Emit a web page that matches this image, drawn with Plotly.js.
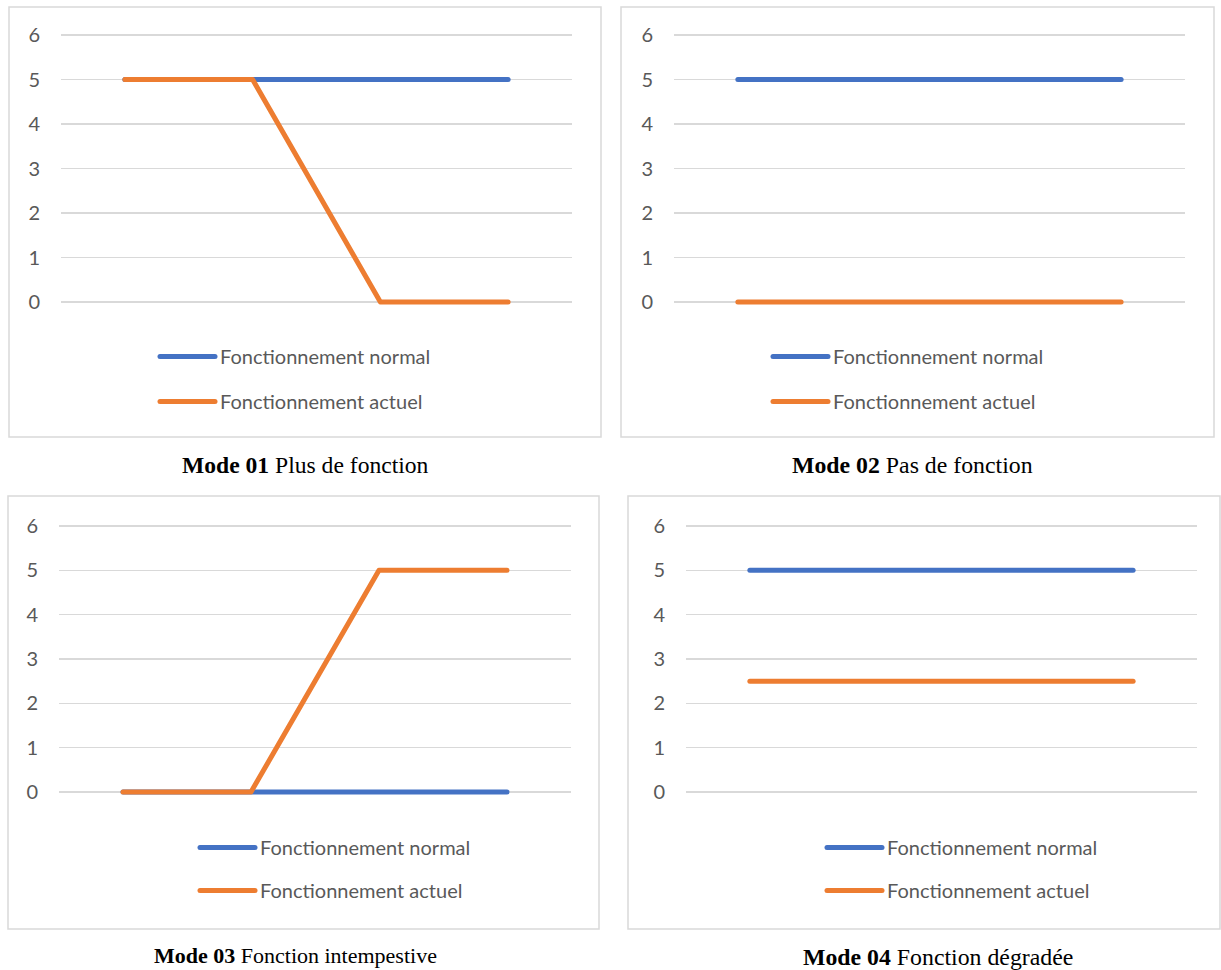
<!DOCTYPE html>
<html><head><meta charset="utf-8">
<script src="https://cdn.plot.ly/plotly-3.0.1.min.js"></script>
<style>
html,body{margin:0;padding:0;background:#fff}
#chart{width:1221px;height:970px}
.js-line{stroke-linecap:round !important;stroke-linejoin:round !important}
</style>
</head><body><div id="chart"></div><script>
// ---- data ----
const steps = ["t1", "t2", "t3", "t4"];
const seriesNames = ["Fonctionnement normal", "Fonctionnement actuel"];
const mode1Normal = [5, 5, 5, 5];
const mode1Actuel = [5, 5, 0, 0];
const mode2Normal = [5, 5, 5, 5];
const mode2Actuel = [0, 0, 0, 0];
const mode3Normal = [0, 0, 0, 0];
const mode3Actuel = [0, 0, 5, 5];
const mode4Normal = [5, 5, 5, 5];
const mode4Actuel = [2.5, 2.5, 2.5, 2.5];
const yTicks = [0, 1, 2, 3, 4, 5, 6];
const captionBold = ["Mode 01", "Mode 02", "Mode 03", "Mode 04"];
const captionText = ["Plus de fonction", "Pas de fonction", "Fonction intempestive", "Fonction dégradée"];

const normals = [mode1Normal, mode2Normal, mode3Normal, mode4Normal];
const actuels = [mode1Actuel, mode2Actuel, mode3Actuel, mode4Actuel];

// ---- layout geometry (pixels) ----
const W = 1221, H = 970;
const panels = [
  {gx: [61, 572], gy0: 302, gy6: 35, box: [9, 7, 601, 437], leg: [155, 337], gap: 16, cap: [305, 465], capSize: 23.6},
  {gx: [674, 1185], gy0: 302, gy6: 35, box: [621, 7, 1214, 437], leg: [768, 337], gap: 16, cap: [912, 465], capSize: 23.8},
  {gx: [59, 571], gy0: 792, gy6: 526, box: [8, 496, 599, 929], leg: [195, 828], gap: 14, cap: [295, 955], capSize: 22},
  {gx: [686, 1197], gy0: 792, gy6: 526, box: [628, 496, 1220, 929], leg: [822, 828], gap: 14, cap: [938, 957], capSize: 23.8}
];
const BLUE = "#4472C4", ORANGE = "#ED7D31";
const tickFont = {family: "Lato, 'Open Sans', sans-serif", size: 20, color: "#595959"};

const traces = [];
const layout = {
  width: W, height: H,
  margin: {l: 0, r: 0, t: 0, b: 0},
  paper_bgcolor: "#ffffff", plot_bgcolor: "#ffffff",
  showlegend: true,
  shapes: [], annotations: []
};

panels.forEach((p, i) => {
  const n = i + 1;
  const xa = n === 1 ? "x" : "x" + n;
  const ya = n === 1 ? "y" : "y" + n;
  const legName = n === 1 ? "legend" : "legend" + n;
  const unit = (p.gy0 - p.gy6) / 6;
  const yb = p.gy0 + 0.6 * unit, yt = p.gy6 - 0.4 * unit;
  layout[n === 1 ? "xaxis" : "xaxis" + n] = {
    domain: [p.gx[0] / W, p.gx[1] / W], anchor: ya,
    type: "category", categoryorder: "array", categoryarray: steps,
    range: [-0.5, 3.5], showticklabels: false, showgrid: false,
    zeroline: false, showline: false, ticks: "", fixedrange: true
  };
  layout[n === 1 ? "yaxis" : "yaxis" + n] = {
    domain: [1 - yb / H, 1 - yt / H], anchor: xa,
    range: [-0.6, 6.4], tickmode: "array", tickvals: yTicks,
    ticktext: yTicks.map(String),
    showgrid: true, gridcolor: "#d9d9d9", gridwidth: 1.3,
    zeroline: false, showline: false, ticks: "",
    ticklabelstandoff: 20, tickfont: tickFont, fixedrange: true
  };
  traces.push({
    type: "scatter", mode: "lines", x: steps, y: normals[i],
    name: seriesNames[0], xaxis: xa, yaxis: ya, legend: legName,
    legendgroup: "n" + n, line: {color: BLUE, width: 5}, hoverinfo: "skip"
  });
  traces.push({
    type: "scatter", mode: "lines", x: steps, y: actuels[i],
    name: seriesNames[1], xaxis: xa, yaxis: ya, legend: legName,
    legendgroup: "a" + n, line: {color: ORANGE, width: 5}, hoverinfo: "skip"
  });
  layout[legName] = {
    x: p.leg[0] / W, y: 1 - p.leg[1] / H, xanchor: "left", yanchor: "top",
    orientation: "v", traceorder: "grouped", tracegroupgap: p.gap,
    itemwidth: 55, bgcolor: "rgba(0,0,0,0)", borderwidth: 0,
    font: {family: "Lato, 'Open Sans', sans-serif", size: 20, color: "#595959"}
  };
  layout.shapes.push({
    type: "rect", xref: "paper", yref: "paper",
    x0: p.box[0] / W, x1: p.box[2] / W, y0: 1 - p.box[3] / H, y1: 1 - p.box[1] / H,
    line: {color: "#d9d9d9", width: 1.5}, fillcolor: "rgba(0,0,0,0)", layer: "below"
  });
  layout.annotations.push({
    xref: "paper", yref: "paper", x: p.cap[0] / W, y: 1 - p.cap[1] / H,
    xanchor: "center", yanchor: "middle", showarrow: false,
    text: "<b>" + captionBold[i] + "</b> " + captionText[i],
    font: {family: "'Liberation Serif', 'Times New Roman', serif", size: p.capSize, color: "#000000"}
  });
});

Plotly.newPlot("chart", traces, layout, {displayModeBar: false, staticPlot: true});
</script></body></html>
